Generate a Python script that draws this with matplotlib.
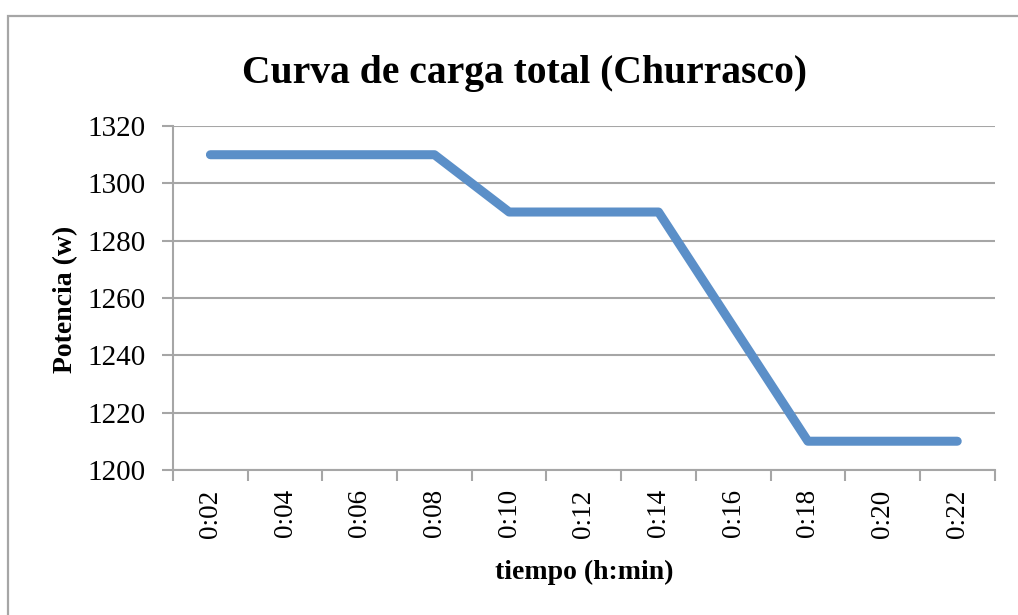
import matplotlib.pyplot as plt
import matplotlib.patches as patches
import numpy as np

# datos de la curva de carga
tiempo = ["0:02", "0:04", "0:06", "0:08", "0:10", "0:12",
          "0:14", "0:16", "0:18", "0:20", "0:22"]
potencia = [1310, 1310, 1310, 1310, 1290, 1290, 1290, 1250, 1210, 1210, 1210]

FUENTE = "Liberation Serif"
GRIS = "#a6a6a6"
AZUL = "#5b8fc8"

plt.rcParams["font.family"] = FUENTE

fig = plt.figure(figsize=(10.18, 6.15), dpi=100)
ax = fig.add_axes([0.170, 0.236, 0.807, 0.559])

# marco del grafico
marco = patches.Rectangle((8 / 1018, -0.05), 1.1, 1 - 16 / 615 + 0.05,
                          transform=fig.transFigure, fill=False,
                          edgecolor=GRIS, linewidth=1.6, clip_on=False)
fig.patches.append(marco)

x = np.arange(len(tiempo))
ax.plot(x, potencia, color=AZUL, linewidth=6.5, solid_capstyle="round",
        solid_joinstyle="round", zorder=3)

ax.set_xlim(-0.5, len(tiempo) - 0.5)
ax.set_ylim(1200, 1320)
ax.set_yticks(np.arange(1200, 1321, 20))
ax.grid(axis="y", color=GRIS, linewidth=1.5)
ax.set_axisbelow(True)

# marcas entre categorias y etiquetas centradas
ax.set_xticks(np.arange(-0.5, len(tiempo)), labels=[])
ax.set_xticks(x, labels=tiempo, minor=True)
ax.tick_params(axis="x", which="major", direction="out", length=8,
               width=1.5, color=GRIS)
ax.tick_params(axis="x", which="minor", length=0, labelsize=19.5,
               labelrotation=90, pad=14)
ax.tick_params(axis="y", direction="out", length=8, width=1.5, color=GRIS,
               labelsize=21, pad=12)

for lado in ["top", "right"]:
    ax.spines[lado].set_visible(False)
for lado in ["left", "bottom"]:
    ax.spines[lado].set_color(GRIS)
    ax.spines[lado].set_linewidth(1.5)

# titulos de ejes y del grafico
fig.text(0.064, 0.514, "Potencia (w)", fontsize=20, fontweight="bold",
         rotation=90, ha="center", va="center")
fig.text(0.574, 0.070, "tiempo (h:min)", fontsize=20, fontweight="bold",
         ha="center", va="center")
fig.text(0.515, 0.880, "Curva de carga total (Churrasco)", fontsize=28.5,
         fontweight="bold", ha="center", va="center")

fig.savefig("out.png", dpi=100)
